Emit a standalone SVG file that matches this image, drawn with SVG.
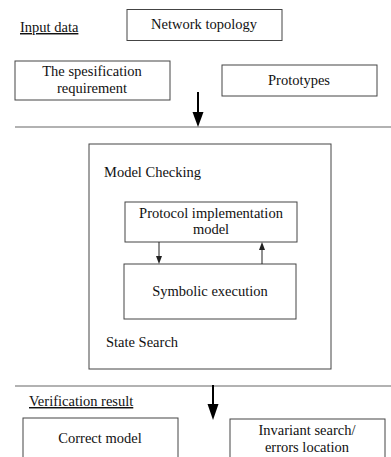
<svg xmlns="http://www.w3.org/2000/svg" width="391" height="457" viewBox="0 0 391 457">
<style>
.box{fill:#fff;stroke:#444;stroke-width:1}
.t{font-family:'Liberation Serif',Tinos,'Times New Roman',Times,'DejaVu Serif',serif;font-size:14.5px;fill:#111}
.c{text-anchor:middle}
.sep{stroke:#666;stroke-width:1.2}
.big{stroke:#000;stroke-width:2}
.sm{stroke:#222;stroke-width:1}
</style>
<rect width="391" height="457" fill="#fff"/>
<g id="labels">
<text class="t" x="20" y="32" text-decoration="underline">Input data</text>
<text class="t" x="29" y="406" text-decoration="underline">Verification  result</text>
</g>
<g id="network-topology">
<rect class="box" x="127" y="9.5" width="155" height="31"/>
<text class="t c" x="204" y="29">Network topology</text>
</g>
<g id="spec">
<rect class="box" x="15" y="61" width="155" height="39"/>
<text class="t c" x="92" y="76">The spesification</text>
<text class="t c" x="92" y="93">requirement</text>
</g>
<g id="prototypes">
<rect class="box" x="222" y="65" width="155" height="31"/>
<text class="t c" x="299" y="85">Prototypes</text>
</g>
<g id="separators">
<line class="sep" x1="15" y1="127" x2="391" y2="127"/>
<line class="sep" x1="15" y1="386" x2="391" y2="386"/>
</g>
<g id="model-checking">
<rect class="box" x="89" y="144" width="242" height="225"/>
<text class="t" x="104" y="177">Model Checking</text>
<text class="t" x="106" y="347">State Search</text>
</g>
<g id="protocol-model">
<rect class="box" x="125" y="202" width="172" height="40"/>
<text class="t c" x="211" y="218">Protocol implementation</text>
<text class="t c" x="211" y="234">model</text>
</g>
<g id="symbolic-execution">
<rect class="box" x="124" y="264" width="172" height="55"/>
<text class="t c" x="210" y="296">Symbolic execution</text>
</g>
<g id="correct-model">
<rect class="box" x="23" y="418" width="155" height="45"/>
<text class="t c" x="100" y="443">Correct model</text>
</g>
<g id="invariant">
<rect class="box" x="230" y="419" width="155" height="45"/>
<text class="t c" x="307" y="435">Invariant search/</text>
<text class="t c" x="307" y="452">errors location</text>
</g>
<g id="connectors">
<line class="big" x1="198" y1="92" x2="198" y2="113"/>
<polygon points="192.5,112 203.5,112 198,127" fill="#000"/>
<line class="big" x1="213" y1="385" x2="213" y2="405"/>
<polygon points="207.5,404 218.5,404 213,420" fill="#000"/>
<line class="sm" x1="159" y1="242" x2="159" y2="257"/>
<polygon points="156,256 162,256 159,264" fill="#222"/>
<line class="sm" x1="262" y1="264" x2="262" y2="249"/>
<polygon points="259,250 265,250 262,242" fill="#222"/>
</g>
</svg>
